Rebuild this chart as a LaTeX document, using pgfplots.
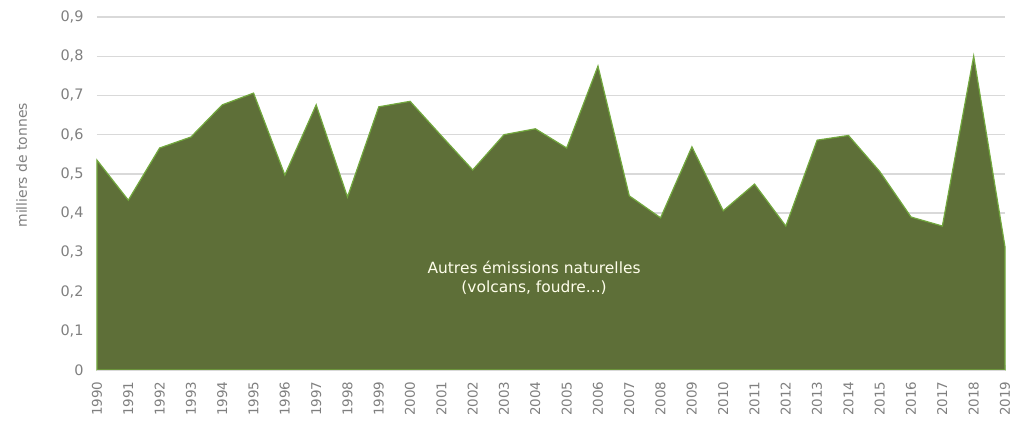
\documentclass[border=0pt]{standalone}
\usepackage{pgfplots}
\pgfplotsset{compat=1.18}
\usepackage{fontspec}
\setmainfont{DejaVu Sans}
\definecolor{fillg}{HTML}{5E6F38}
\definecolor{lineg}{HTML}{72A83E}
\definecolor{gridc}{HTML}{D9D9D9}
\definecolor{tickc}{HTML}{7F7F7F}
\begin{document}
\begin{tikzpicture}
\useasboundingbox (-97bp,-51bp) rectangle (915bp,370bp);
\begin{axis}[
  scale only axis,
  width=908bp, height=353bp,
  xmin=1990, xmax=2019, ymin=0, ymax=0.9,
  axis lines*=left,
  axis line style={draw=none},
  xtick={1990,...,2019},
  ytick={0,0.1,...,0.9},
  ymajorgrids, grid style={gridc, line width=1.3pt},
  major tick length=5bp,
  xtick style={draw=gridc, line width=0.8pt},
  ytick style={draw=none},
  x tick label style={rotate=90, anchor=east, font=\fontsize{13.5}{13.5}\selectfont, text=tickc, xshift=-8bp},
  xticklabel={\pgfmathprintnumber[1000 sep={},assume math mode=true]{\tick}},
  y tick label style={font=\fontsize{14.5}{14.5}\selectfont, text=tickc, xshift=-10bp},
  yticklabel={\pgfmathprintnumber[use comma, fixed, precision=1, assume math mode=true]{\tick}},
  ylabel={milliers de tonnes},
  ylabel style={font=\fontsize{14}{14}\selectfont, text=tickc, at={(rel axis cs:-0.083,0.58)}, anchor=center},
  clip=false,
]
\addplot[fill=fillg, draw=lineg, line width=1.2pt, line join=miter] coordinates {
(1990,0.535) (1991,0.433) (1992,0.566) (1993,0.594) (1994,0.676) (1995,0.706)
(1996,0.497) (1997,0.676) (1998,0.441) (1999,0.671) (2000,0.685) (2001,0.597)
(2002,0.510) (2003,0.600) (2004,0.615) (2005,0.566) (2006,0.775) (2007,0.444)
(2008,0.388) (2009,0.569) (2010,0.406) (2011,0.474) (2012,0.367) (2013,0.586)
(2014,0.598) (2015,0.506) (2016,0.390) (2017,0.367) (2018,0.800) (2019,0.314)
} \closedcycle;
\draw[gridc, line width=1pt] (axis cs:1990,0) -- (axis cs:2019,0);
\node[align=center, text=white!92!yellow, font=\fontsize{15.5}{20}\selectfont] at (axis cs:2003.96,0.235) {Autres émissions naturelles\\(volcans, foudre...)};
\end{axis}
\end{tikzpicture}
\end{document}
